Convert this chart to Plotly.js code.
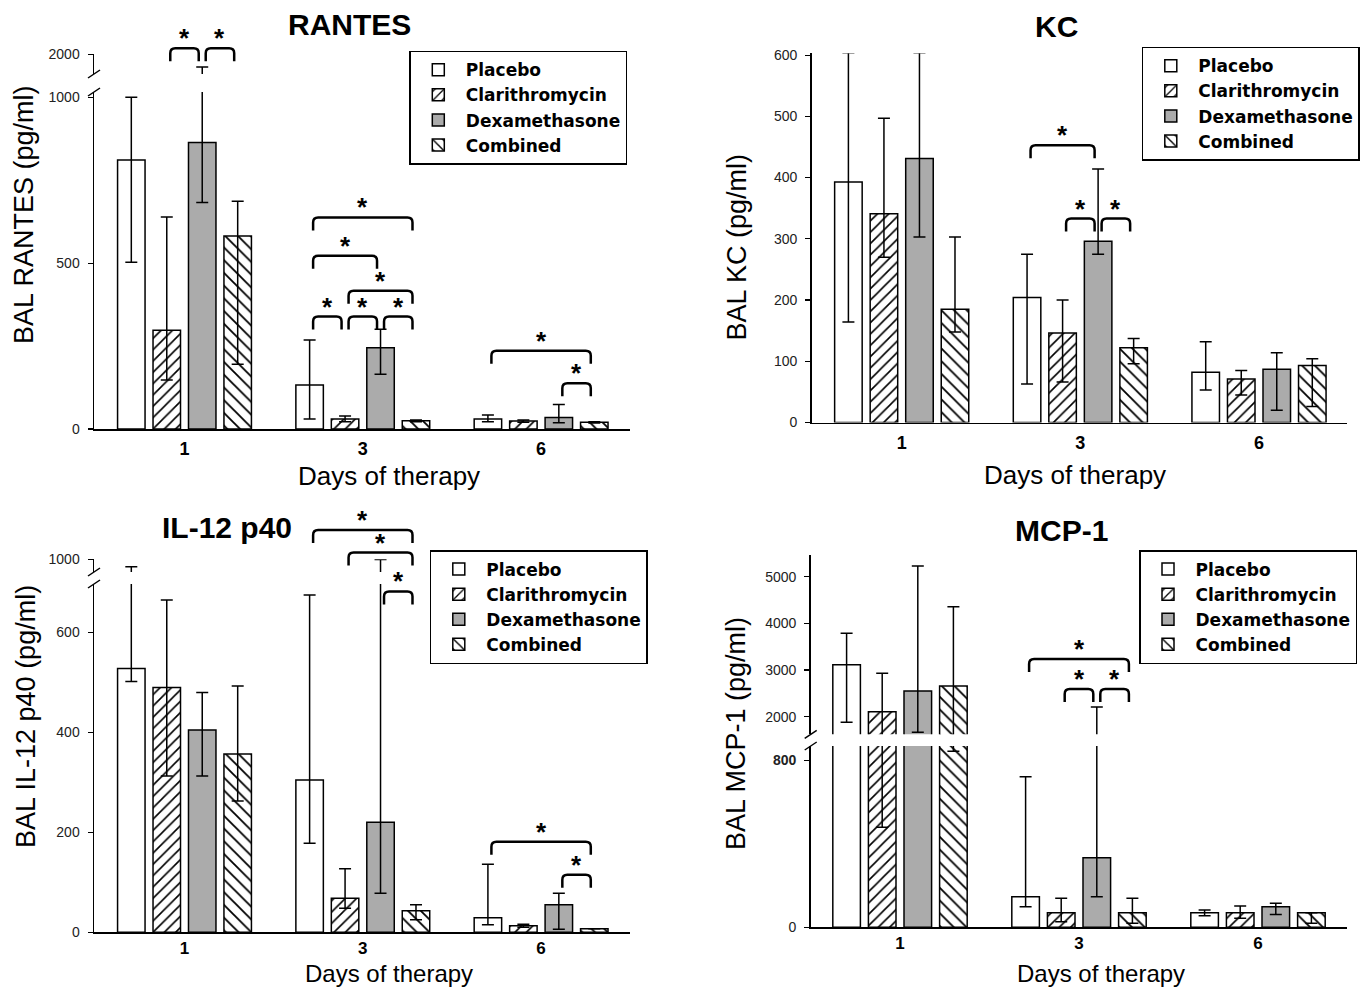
<!DOCTYPE html>
<html><head><meta charset="utf-8">
<script src="https://cdn.plot.ly/plotly-3.0.1.min.js"></script>
<style>html,body{margin:0;padding:0;background:#fff}#chart{width:1363px;height:987px}</style>
</head><body><div id="chart"></div>
<script>
// ---------------- data ----------------
const days = ['1', '3', '6'];
const seriesNames = ['Placebo', 'Clarithromycin', 'Dexamethasone', 'Combined'];

// each array: [Placebo, Clarithromycin, Dexamethasone, Combined], values for days 1,3,6 (pg/ml)
const rantesMean  = [[811, 133, 30], [298, 30, 24], [864, 245, 35], [582, 25, 20]];
const rantesUpper = [[1000, 268, 42], [639, 39, 27], [1394, 301, 74], [687, 27, 22]];
const rantesLower = [[503, 30, 22], [148, 22, 20], [683, 165, 19], [195, 22, 18]];

const kcMean  = [[393, 204, 82], [341, 146, 71], [431, 296, 87], [185, 122, 93]];
const kcUpper = [[604, 275, 132], [497, 200, 85], [604, 414, 114], [303, 137, 104]];
const kcLower = [[164, 63, 53], [270, 66, 45], [303, 275, 20], [148, 96, 26]];

const il12Mean  = [[528, 305, 29], [490, 68, 13], [405, 220, 55], [357, 43, 7]];
const il12Upper = [[883, 675, 136], [665, 127, 16], [480, 998, 78], [493, 55, 7]];
const il12Lower = [[502, 178, 15], [313, 48, 10], [313, 78, 6], [263, 25, 7]];

const mcpMean  = [[3111, 147, 70], [2107, 70, 70], [2551, 334, 99], [2658, 70, 70]];
const mcpUpper = [[3787, 723, 83], [2930, 139, 102], [5229, 2208, 115], [4357, 139, 70]];
const mcpLower = [[1880, 99, 56], [480, 27, 43], [1666, 147, 62], [845, 19, 19]];

// significance brackets: [day index, series a, series b, bracket level in lower-axis units]
const rantesSig = [[0,1,2,1148],[0,2,3,1148],[1,0,3,638],[1,0,2,522],[1,1,3,417],[1,0,1,339],[1,1,2,339],[1,2,3,339],[2,0,3,236],[2,2,3,138]];
const kcSig     = [[1,0,2,453],[1,1,2,333],[1,2,3,333]];
const il12Sig   = [[1,0,3,805],[1,1,3,760],[1,2,3,682],[2,0,3,181],[2,2,3,115]];
const mcpSig    = [[1,0,3,1288],[1,1,2,1143],[1,2,3,1143]];

// axis ticks
const rantesTicksLo = [0, 500, 1000], rantesTicksHi = [2000];
const kcTicks = [0, 100, 200, 300, 400, 500, 600];
const il12TicksLo = [0, 200, 400, 600], il12TicksHi = [1000];
const mcpTicksLo = [0, 800], mcpTickTextLo = ['0', '<b>800</b>'];
const mcpTicksHi = [2000, 3000, 4000, 5000];

// ---------------- layout geometry (pixels) ----------------
const W = 1363, H = 987;
const FONT = 'Liberation Sans, Arial, sans-serif';
const BARGAP = 0.2045, GROUPGAP = 0.225;

const panels = [
  { title: 'RANTES', ytitle: 'BAL RANTES (pg/ml)', mean: rantesMean, upper: rantesUpper, lower: rantesLower, sig: rantesSig,
    xa: 'x', yLo: 'y', yHi: 'y5', legend: 'legend', tickGap: 3, tickSize: 18, xtSize: 26,
    L: 94, R: 630, c0: 184.5, u: 178.3,
    lo: { bot: 429, top: 92, max: 1016, ticks: rantesTicksLo },
    hi: { bot: 74, top: 54.3, range: [1060, 2000], ticks: rantesTicksHi },
    titlePos: [349.5, 25], ytPos: [24, 215], xtPos: [388.6, 476], legPos: [409.3, 50.7] },
  { title: 'KC', ytitle: 'BAL KC (pg/ml)', mean: kcMean, upper: kcUpper, lower: kcLower, sig: kcSig,
    xa: 'x2', yLo: 'y2', yHi: null, legend: 'legend2', tickGap: 3, tickSize: 18, xtSize: 26,
    L: 811.7, R: 1347, c0: 901.7, u: 178.65,
    lo: { bot: 422.5, top: 53.3, max: 603, ticks: kcTicks },
    titlePos: [1056, 26], ytPos: [736, 247.5], xtPos: [1075, 475], legPos: [1141.8, 46.7] },
  { title: 'IL-12 p40', ytitle: 'BAL IL-12 p40 (pg/ml)', mean: il12Mean, upper: il12Upper, lower: il12Lower, sig: il12Sig,
    xa: 'x3', yLo: 'y3', yHi: 'y6', legend: 'legend3', tickGap: 0, tickSize: 17, xtSize: 24,
    L: 94, R: 630, c0: 184.5, u: 178.3,
    lo: { bot: 932.3, top: 584, max: 697, ticks: il12TicksLo },
    hi: { bot: 572, top: 559.3, range: [800, 1000], ticks: il12TicksHi },
    titlePos: [227, 527.5], ytPos: [26, 717], xtPos: [388.6, 973], legPos: [429.8, 550] },
  { title: 'MCP-1', ytitle: 'BAL MCP-1 (pg/ml)', mean: mcpMean, upper: mcpUpper, lower: mcpLower, sig: mcpSig,
    xa: 'x4', yLo: 'y4', yHi: 'y7', legend: 'legend4', tickGap: 0, tickSize: 17, xtSize: 24,
    L: 810.7, R: 1346.7, c0: 900, u: 179,
    lo: { bot: 927.3, top: 746, max: 870, ticks: mcpTicksLo, ticktext: mcpTickTextLo },
    hi: { bot: 734.3, top: 555, range: [1623, 5465], ticks: mcpTicksHi },
    titlePos: [1061.5, 530], ytPos: [736, 734], xtPos: [1101, 973], legPos: [1139, 550] }
];

const seriesMarker = [
  { color: '#ffffff', line: { color: '#000', width: 1.5 } },
  { color: '#ffffff', line: { color: '#000', width: 1.5 },
    pattern: { shape: '/', fgcolor: '#000', bgcolor: '#ffffff', size: 8, solidity: 0.2, fillmode: 'replace' } },
  { color: '#ababab', line: { color: '#000', width: 1.5 } },
  { color: '#ffffff', line: { color: '#000', width: 1.5 },
    pattern: { shape: '\\', fgcolor: '#000', bgcolor: '#ffffff', size: 9, solidity: 0.2, fillmode: 'replace' } }
];

const px = v => v / W;
const py = v => 1 - v / H;
const axKey = (id) => id.replace(/^x/, 'xaxis').replace(/^y/, 'yaxis');

const traces = [];
const layout = {
  width: W, height: H, margin: { l: 0, r: 0, t: 0, b: 0 },
  paper_bgcolor: '#fff', plot_bgcolor: 'rgba(0,0,0,0)',
  barmode: 'group', bargap: BARGAP, bargroupgap: GROUPGAP,
  hovermode: false, font: { family: FONT, color: '#000' },
  shapes: [], annotations: []
};

const yAxisStyle = {
  showline: true, linecolor: '#000', linewidth: 1.5, ticks: 'outside', ticklen: 5, tickwidth: 1.2, tickcolor: '#000',
  showgrid: false, zeroline: false, fixedrange: true, ticklabelstandoff: 5,
  tickfont: { family: FONT, size: 14, color: '#222' }
};

panels.forEach((p) => {
  const xrange = [-(p.c0 - p.L) / p.u, 2 + (p.R - (p.c0 + 2 * p.u)) / p.u];
  layout[axKey(p.xa)] = {
    domain: [px(p.L), px(p.R)], range: xrange, anchor: p.yLo,
    showline: true, linecolor: '#000', linewidth: 1.5, ticks: '', showgrid: false, zeroline: false,
    tickvals: [0, 1, 2], ticktext: days, ticklabelstandoff: p.tickGap, fixedrange: true,
    tickfont: { family: FONT, size: p.tickSize, weight: 'bold', color: '#000' }
  };
  const loDom = [py(p.lo.bot), py(p.lo.top)];
  layout[axKey(p.yLo)] = Object.assign({}, yAxisStyle, {
    domain: loDom, range: [0, p.lo.max], anchor: p.xa, tickvals: p.lo.ticks,
    ticktext: p.lo.ticktext || p.lo.ticks.map(String)
  });
  if (p.yHi) {
    layout[axKey(p.yHi)] = Object.assign({}, yAxisStyle, {
      domain: [py(p.hi.bot), py(p.hi.top)], range: p.hi.range, anchor: p.xa,
      tickvals: p.hi.ticks, ticktext: p.hi.ticks.map(String)
    });
    // axis break marks
    [p.hi.bot, p.lo.top].forEach(yy => {
      layout.shapes.push({ type: 'line', xref: 'paper', yref: 'paper',
        x0: px(p.L - 6), y0: py(yy + 4), x1: px(p.L + 6), y1: py(yy - 4),
        line: { color: '#000', width: 1.5 } });
    });
  }

  seriesNames.forEach((name, s) => {
    const m = p.mean[s];
    const err = {
      type: 'data', symmetric: false,
      array: m.map((v, i) => p.upper[s][i] - v),
      arrayminus: m.map((v, i) => v - p.lower[s][i]),
      color: '#000', thickness: 1.5, width: 6
    };
    const base = { type: 'bar', name: name, x: [0, 1, 2], y: m, xaxis: p.xa, marker: seriesMarker[s],
      error_y: err, legend: p.legend, hoverinfo: 'skip' };
    traces.push(Object.assign({}, base, { yaxis: p.yLo, showlegend: true }));
    if (p.yHi) traces.push(Object.assign({}, base, { yaxis: p.yHi, showlegend: false }));
  });

  // legend
  layout[p.legend] = {
    x: px(p.legPos[0]), y: py(p.legPos[1]), xanchor: 'left', yanchor: 'top',
    bgcolor: '#fff', bordercolor: '#000', borderwidth: 1.5, itemwidth: 45, tracegroupgap: 0,
    traceorder: 'normal', itemclick: false, itemdoubleclick: false,
    font: { family: 'DejaVu Sans, sans-serif', size: 17, weight: 'bold', color: '#000' }
  };

  // titles
  layout.annotations.push({ xref: 'paper', yref: 'paper', x: px(p.titlePos[0]), y: py(p.titlePos[1]),
    xanchor: 'center', yanchor: 'middle', showarrow: false, text: '<b>' + p.title + '</b>',
    font: { family: FONT, size: 30, color: '#000' } });
  layout.annotations.push({ xref: 'paper', yref: 'paper', x: px(p.ytPos[0]), y: py(p.ytPos[1]),
    xanchor: 'center', yanchor: 'middle', showarrow: false, textangle: -90, text: p.ytitle,
    font: { family: FONT, size: 27, color: '#000' } });
  layout.annotations.push({ xref: 'paper', yref: 'paper', x: px(p.xtPos[0]), y: py(p.xtPos[1]),
    xanchor: 'center', yanchor: 'middle', showarrow: false, text: 'Days of therapy',
    font: { family: FONT, size: p.xtSize, color: '#000' } });

  // significance brackets
  const pitch = (1 - BARGAP) / 4;
  const cx = (g, s) => g + (s - 1.5) * pitch;
  const inset = 3.5 / p.u, rx = 5 / p.u, ry = 5 / H, drop = 13 / H;
  p.sig.forEach(([g, a, b, level]) => {
    const yl = loDom[0] + level / p.lo.max * (loDom[1] - loDom[0]);
    const xa = cx(g, a) + inset, xb = cx(g, b) - inset, ye = yl - drop;
    layout.shapes.push({ type: 'path', xref: p.xa, yref: 'paper', layer: 'above',
      path: `M${xa},${ye} L${xa},${yl - ry} Q${xa},${yl} ${xa + rx},${yl} L${xb - rx},${yl} Q${xb},${yl} ${xb},${yl - ry} L${xb},${ye}`,
      line: { color: '#000', width: 2.5 } });
    layout.annotations.push({ xref: p.xa, yref: 'paper', x: (xa + xb) / 2, y: yl - 7 / H,
      xanchor: 'center', yanchor: 'bottom', showarrow: false, text: '<b>*</b>',
      font: { family: FONT, size: 26, color: '#000' } });
  });
});

Plotly.newPlot('chart', traces, layout, { displayModeBar: false, staticPlot: true });
</script>
</body></html>
